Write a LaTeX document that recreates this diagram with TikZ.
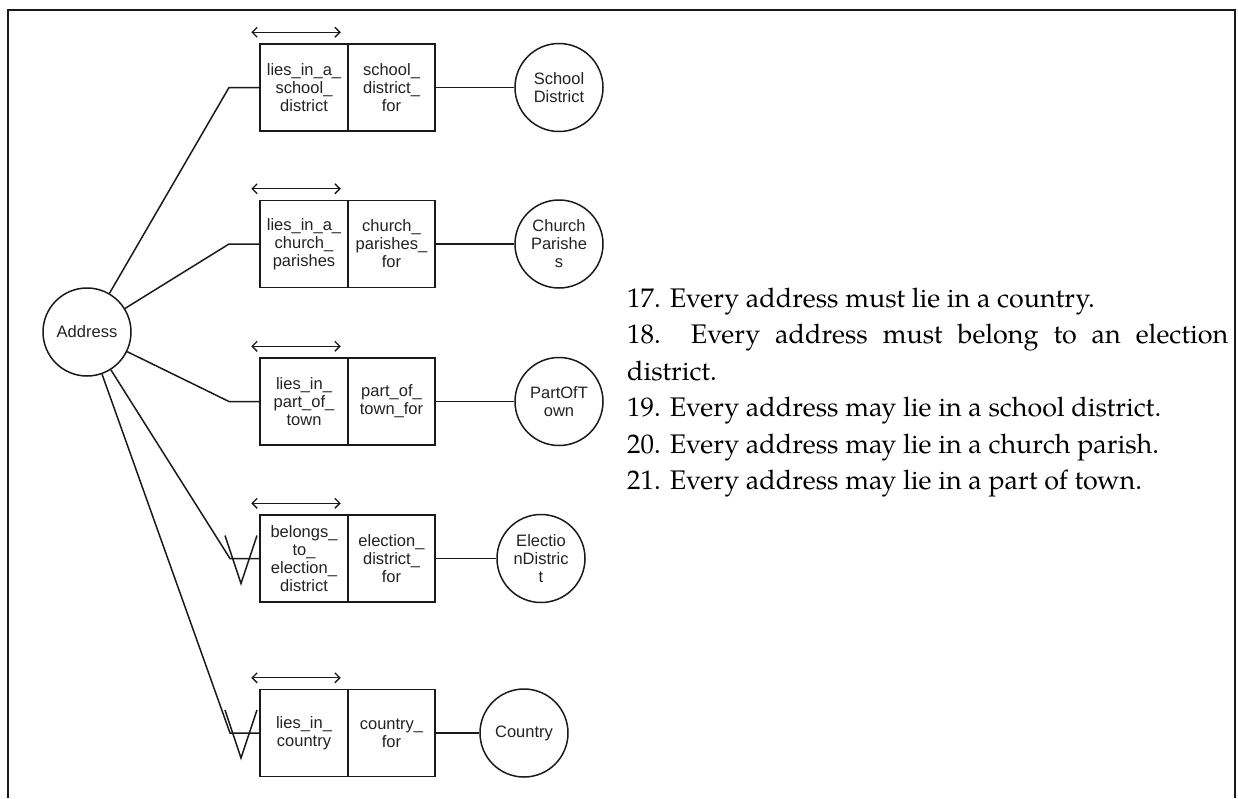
\documentclass[tikz,border=0pt]{standalone}
\usepackage{fontspec}
\setsansfont{Liberation Sans}
\newfontfamily\stmtfam{TeX Gyre Pagella}
\usetikzlibrary{arrows.meta}
\definecolor{ln}{HTML}{1A1A1A}
\definecolor{tx}{HTML}{222222}
\newcommand\stmtfont{\stmtfam\fontsize{26.9}{36}\selectfont}
\begin{document}
\begin{tikzpicture}[x=1pt,y=-1pt,
  conn/.style={draw=ln, line width=1.5pt},
  role/.style={draw=ln, line width=1.5pt, minimum height=87pt, inner sep=0pt, align=center,
    font=\sffamily\fontsize{16.5}{18}\selectfont, text=tx},
  roleL/.style={role, minimum width=88pt},
  roleR/.style={role, minimum width=87pt},
  ent/.style={circle, draw=ln, line width=1.5pt, minimum size=88pt, inner sep=0pt, align=center,
    font=\sffamily\fontsize{16.5}{18}\selectfont, text=tx},
  uniq/.style={draw=ln, line width=1.4pt, {Straight Barb[length=5pt,width=10pt]}-{Straight Barb[length=5pt,width=10pt]}},
  stmt/.style={anchor=base west, inner sep=0pt, font=\stmtfont, text=black}
]
\path[use as bounding box] (0,0) rectangle (1238,798);
\draw[draw=ln, line width=1.6pt] (8,798) -- (8,10) -- (1235,10) -- (1235,798);

% Address
\node[ent] (addr) at (87,332) {Address};

% role boxes
\node[roleL] (r1a) at (304,87.5) {lies\_in\_a\_\\school\_\\district};
\node[roleR] (r1b) at (391.5,87.5) {school\_\\district\_\\for};
\node[roleL] (r2a) at (304,244) {lies\_in\_a\_\\church\_\\parishes};
\node[roleR] (r2b) at (391.5,244) {church\_\\parishes\_\\for};
\node[roleL] (r3a) at (304,401.5) {lies\_in\_\\part\_of\_\\town};
\node[roleR] (r3b) at (391.5,401.5) {part\_of\_\\town\_for};
\node[roleL] (r4a) at (304,558.5) {belongs\_\\to\_\\election\_\\district};
\node[roleR] (r4b) at (391.5,558.5) {election\_\\district\_\\for};
\node[roleL] (r5a) at (304,733) {lies\_in\_\\country};
\node[roleR] (r5b) at (391.5,733) {country\_\\for};

% entities
\node[ent] (sd) at (559,87.5) {School\\District};
\node[ent] (cp) at (559,244) {Church\\Parishe\\s};
\node[ent] (pt) at (559,401.5) {PartOfT\\own};
\node[ent] (ed) at (541,558.5) {Electio\\nDistric\\t};
\node[ent] (co) at (524,733) {Country};

% uniqueness arrows
\foreach \r in {r1a,r2a,r3a,r4a,r5a}
  \draw[uniq] ([shift={(-8,-11)}]\r.north west) -- ([shift={(-8,-11)}]\r.north east);

% elbows
\coordinate (e1) at (229,87.5);
\coordinate (e2) at (229,244);
\coordinate (e3) at (229,401.5);
\coordinate (e4) at (230,558.5);
\coordinate (e5) at (230,733);

\draw[conn] (addr) -- (e1) -- (r1a.west);
\draw[conn] (addr) -- (e2) -- (r2a.west);
\draw[conn] (addr) -- (e3) -- (r3a.west);
\draw[conn] (addr) -- (e4) -- (r4a.west);
\draw[conn] (addr) -- (e5) -- (r5a.west);

% mandatory marks
\draw[conn] ([shift={(-5,-23)}]e4) -- ++(16,48) -- ++(16,-48);
\draw[conn] ([shift={(-5,-23)}]e5) -- ++(16,48) -- ++(16,-48);

% right connectors
\draw[conn] (r1b.east) -- (sd);
\draw[conn] (r2b.east) -- (cp);
\draw[conn] (r3b.east) -- (pt);
\draw[conn] (r4b.east) -- (ed);
\draw[conn] (r5b.east) -- (co);

% statements
\node[stmt] (s17) at (627,307) {17. Every address must lie in a country.};
\node[stmt] (s18) at (627,343.5) {\makebox[601pt][s]{18.\ \ Every address must belong to an election}};
\node[stmt] (s18b) at (627,380) {district.};
\node[stmt] (s19) at (627,416.5) {19. Every address may lie in a school district.};
\node[stmt] (s20) at (627,453) {20. Every address may lie in a church parish.};
\node[stmt] (s21) at (627,489.5) {21. Every address may lie in a part of town.};
\end{tikzpicture}
\end{document}
